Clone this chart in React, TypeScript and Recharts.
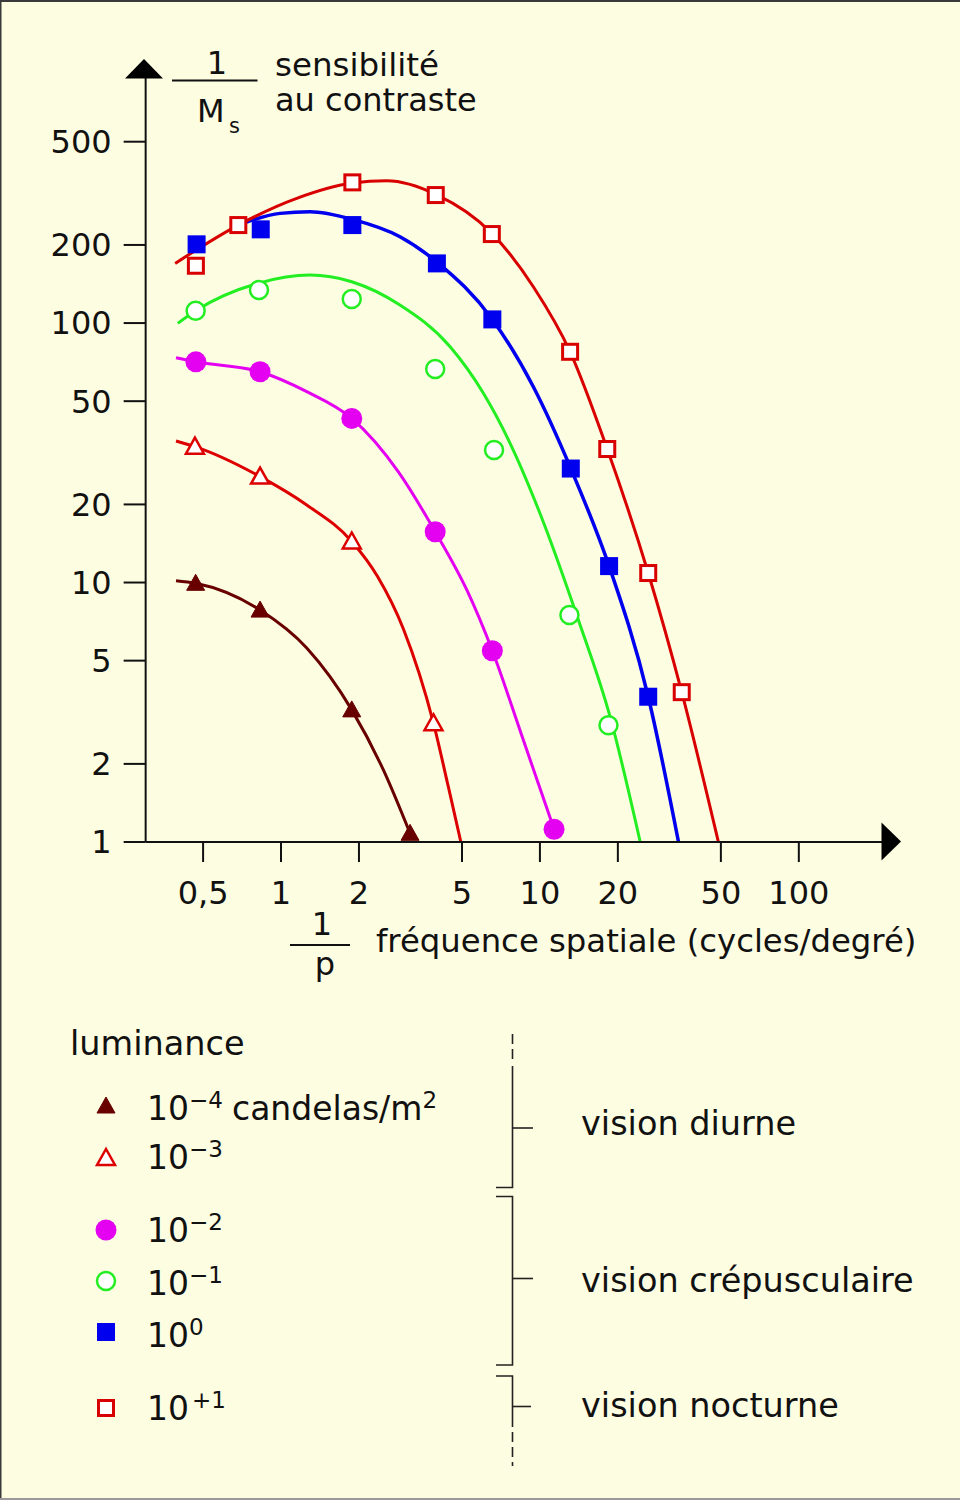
import { ComposedChart, Line, Scatter, XAxis, YAxis } from 'recharts';

// axis ticks
const X_TICKS = [0.5, 1, 2, 5, 10, 20, 50, 100];
const Y_TICKS = [1, 2, 5, 10, 20, 50, 100, 200, 500];

// luminance 10^-4 cd/m2
const lum4Pts = [
  { x: 0.468, y: 9.93 }, { x: 0.83, y: 7.83 }, { x: 1.876, y: 3.23 }, { x: 3.15, y: 1.08 },
];
const lum4Curve = [
  { x: 0.393, y: 10.16 }, { x: 0.468, y: 9.93 }, { x: 0.83, y: 7.83 }, { x: 1.257, y: 5.59 },
  { x: 1.876, y: 3.23 }, { x: 2.485, y: 1.895 }, { x: 3.15, y: 1.08 },
];

// 10^-3
const lum3Pts = [
  { x: 0.465, y: 33.4 }, { x: 0.83, y: 25.6 }, { x: 1.876, y: 14.4 }, { x: 3.88, y: 2.87 },
];
const lum3Curve = [
  { x: 0.393, y: 35.1 }, { x: 0.465, y: 33.4 }, { x: 0.83, y: 25.6 }, { x: 1.257, y: 19.9 },
  { x: 1.876, y: 14.4 }, { x: 2.36, y: 10.55 }, { x: 2.97, y: 6.62 }, { x: 3.88, y: 2.87 },
  { x: 4.43, y: 1.63 }, { x: 4.95, y: 1.0 },
];

// 10^-2
const lum2Pts = [
  { x: 0.469, y: 70.9 }, { x: 0.83, y: 64.9 }, { x: 1.876, y: 42.9 }, { x: 3.94, y: 15.7 },
  { x: 6.55, y: 5.46 }, { x: 11.34, y: 1.12 },
];
const lum2Curve = [
  { x: 0.393, y: 73.5 }, { x: 0.469, y: 70.9 }, { x: 0.83, y: 64.9 }, { x: 1.257, y: 54.4 },
  { x: 1.876, y: 42.9 }, { x: 2.84, y: 26.7 }, { x: 3.94, y: 15.7 }, { x: 5.22, y: 9.36 },
  { x: 6.55, y: 5.46 }, { x: 8.63, y: 2.47 }, { x: 11.34, y: 1.12 },
];

// 10^-1
const lum1Pts = [
  { x: 0.468, y: 111.5 }, { x: 0.822, y: 134.1 }, { x: 1.876, y: 123.7 }, { x: 3.94, y: 66.5 },
  { x: 6.65, y: 32.4 }, { x: 13.0, y: 7.49 }, { x: 18.4, y: 2.82 },
];
const lum1Curve = [
  { x: 0.399, y: 99.7 }, { x: 0.468, y: 111.5 }, { x: 0.822, y: 142.6 }, { x: 1.294, y: 153.1 },
  { x: 1.876, y: 144.3 }, { x: 2.88, y: 117.3 }, { x: 4.5, y: 81.0 }, { x: 6.05, y: 53.6 },
  { x: 7.67, y: 34.4 }, { x: 10.0, y: 18.5 }, { x: 14.08, y: 7.17 }, { x: 18.66, y: 3.04 },
  { x: 24.4, y: 1.0 },
];

// 10^0
const lum0Pts = [
  { x: 0.472, y: 201.1 }, { x: 0.835, y: 229.7 }, { x: 1.886, y: 238.6 }, { x: 4.0, y: 169.8 },
  { x: 6.55, y: 103.3 }, { x: 13.16, y: 27.5 }, { x: 18.5, y: 11.57 }, { x: 26.2, y: 3.63 },
];
const lum0Curve = [
  { x: 0.737, y: 245.1 }, { x: 0.991, y: 264.7 }, { x: 1.294, y: 268.5 }, { x: 1.886, y: 250.9 },
  { x: 2.88, y: 215.1 }, { x: 4.0, y: 171.8 }, { x: 6.55, y: 103.3 }, { x: 9.43, y: 56.8 },
  { x: 13.16, y: 27.5 }, { x: 18.5, y: 11.57 }, { x: 26.2, y: 3.63 }, { x: 34.3, y: 1.0 },
];

// 10^+1
const lumP1Pts = [
  { x: 0.469, y: 166.3 }, { x: 0.684, y: 238.6 }, { x: 1.886, y: 348.5 }, { x: 3.96, y: 311.4 },
  { x: 6.52, y: 220.3 }, { x: 13.08, y: 77.5 }, { x: 18.2, y: 32.7 }, { x: 26.2, y: 10.88 },
  { x: 35.3, y: 3.78 },
];
const lumP1Curve = [
  { x: 0.39, y: 169.8 }, { x: 0.684, y: 238.6 }, { x: 1.15, y: 302.4 }, { x: 1.886, y: 346.3 },
  { x: 2.56, y: 353.5 }, { x: 3.96, y: 313.3 }, { x: 6.52, y: 221.7 }, { x: 9.43, y: 138.0 },
  { x: 13.08, y: 77.5 }, { x: 18.2, y: 32.7 }, { x: 26.2, y: 10.88 }, { x: 35.3, y: 3.78 },
  { x: 48.9, y: 1.0 },
];

// legend rows: exponent label
const LEGEND_EXP = ['\u22124', '\u22123', '\u22122', '\u22121', '0', '+1'];

const BROWN = '#680000';
const RED = '#dd0000';
const MAGENTA = '#e400f0';
const GREEN = '#22ee22';
const BLUE = '#0000ee';
const RED_SQ = '#d80000';
const BG = '#fdfde2';
const FONT = '"DejaVu Sans", sans-serif';

const Triangle = ({ cx, cy, fill, stroke, hollow }: any) => (
  <polygon
    points={`${cx - 9},${cy + 7} ${cx + 9},${cy + 7} ${cx},${cy - 9}`}
    fill={hollow ? '#ffffff' : fill}
    stroke={stroke}
    strokeWidth={hollow ? 2.5 : 1}
    strokeLinejoin="miter"
  />
);
const Circle = ({ cx, cy, fill, stroke, hollow }: any) =>
  hollow ? (
    <circle cx={cx} cy={cy} r={9} fill="#ffffff" stroke={stroke} strokeWidth={2.5} />
  ) : (
    <circle cx={cx} cy={cy} r={10.5} fill={fill} />
  );
const Square = ({ cx, cy, fill, stroke, hollow }: any) =>
  hollow ? (
    <rect x={cx - 7.5} y={cy - 7.5} width={15} height={15} fill="#ffffff" stroke={stroke} strokeWidth={3} />
  ) : (
    <rect x={cx - 9} y={cy - 9} width={18} height={18} fill={fill} />
  );

const fmtX = (v: number) => String(v).replace('.', ',');

const legendRows = [
  { base: 1119.5, shape: <Triangle cx={106} cy={1106} fill={BROWN} stroke={BROWN} /> },
  { base: 1168.5, shape: <Triangle cx={106} cy={1158} stroke={RED} hollow /> },
  { base: 1241.7, shape: <Circle cx={106} cy={1230} fill={MAGENTA} /> },
  { base: 1295, shape: <Circle cx={106} cy={1281} stroke={GREEN} hollow /> },
  { base: 1346.7, shape: <Square cx={106} cy={1332} fill={BLUE} /> },
  { base: 1420, shape: <Square cx={106} cy={1408} stroke={RED_SQ} hollow /> },
];

export default function App() {
  return (
    <div style={{ position: 'absolute', left: 0, top: 0, width: 960, height: 1500, background: BG, fontFamily: FONT }}>
      <div style={{ position: 'absolute', left: 0, top: 0 }}>
        <ComposedChart width={960} height={1500} margin={{ top: 78, right: 70, bottom: 598, left: 85.65 }}>
          <XAxis
            dataKey="x"
            type="number"
            scale="log"
            domain={[0.3, 225]}
            allowDataOverflow
            ticks={X_TICKS}
            tickFormatter={fmtX}
            height={60}
            stroke="#111"
            strokeWidth={2}
            tickSize={20}
            tickMargin={19}
            tick={{ fill: '#111', fontSize: 32, fontFamily: FONT }}
            interval={0}
          />
          <YAxis
            dataKey="y"
            type="number"
            scale="log"
            domain={[1, 880]}
            allowDataOverflow
            ticks={Y_TICKS}
            width={60}
            stroke="#111"
            strokeWidth={2}
            tickSize={22}
            tickMargin={12}
            tick={{ fill: '#111', fontSize: 32, fontFamily: FONT }}
            interval={0}
          />
          <Line data={lum4Curve} dataKey="y" type="monotone" stroke={BROWN} strokeWidth={3} dot={false} isAnimationActive={false} />
          <Line data={lum3Curve} dataKey="y" type="monotone" stroke={RED} strokeWidth={3} dot={false} isAnimationActive={false} />
          <Line data={lum2Curve} dataKey="y" type="monotone" stroke={MAGENTA} strokeWidth={3} dot={false} isAnimationActive={false} />
          <Line data={lum1Curve} dataKey="y" type="monotone" stroke={GREEN} strokeWidth={3} dot={false} isAnimationActive={false} />
          <Line data={lum0Curve} dataKey="y" type="monotone" stroke={BLUE} strokeWidth={3.5} dot={false} isAnimationActive={false} />
          <Line data={lumP1Curve} dataKey="y" type="monotone" stroke={RED_SQ} strokeWidth={3} dot={false} isAnimationActive={false} />
          <Scatter data={lum4Pts} dataKey="y" isAnimationActive={false} shape={(p: any) => <Triangle cx={p.cx} cy={p.cy} fill={BROWN} stroke={BROWN} />} />
          <Scatter data={lum3Pts} dataKey="y" isAnimationActive={false} shape={(p: any) => <Triangle cx={p.cx} cy={p.cy} stroke={RED} hollow />} />
          <Scatter data={lum2Pts} dataKey="y" isAnimationActive={false} shape={(p: any) => <Circle cx={p.cx} cy={p.cy} fill={MAGENTA} />} />
          <Scatter data={lum1Pts} dataKey="y" isAnimationActive={false} shape={(p: any) => <Circle cx={p.cx} cy={p.cy} stroke={GREEN} hollow />} />
          <Scatter data={lum0Pts} dataKey="y" isAnimationActive={false} shape={(p: any) => <Square cx={p.cx} cy={p.cy} fill={BLUE} />} />
          <Scatter data={lumP1Pts} dataKey="y" isAnimationActive={false} shape={(p: any) => <Square cx={p.cx} cy={p.cy} stroke={RED_SQ} hollow />} />
        </ComposedChart>
      </div>
      <svg width={960} height={1500} style={{ position: 'absolute', left: 0, top: 0, pointerEvents: 'none' }} fontFamily={FONT}>
        {/* frame */}
        <line x1={0} y1={1} x2={960} y2={1} stroke="#3a3a3a" strokeWidth={2} />
        <line x1={0.75} y1={0} x2={0.75} y2={1500} stroke="#3a3a3a" strokeWidth={1.5} />
        <line x1={0} y1={1499} x2={960} y2={1499} stroke="#9a9a9a" strokeWidth={2} />
        {/* arrow heads */}
        <polygon points="125,78.5 163,78.5 144,59" fill="#000" />
        <polygon points="881.5,822.5 881.5,860.5 901,841.5" fill="#000" />
        {/* y axis title */}
        <text x={217} y={74} fontSize={32} textAnchor="middle" fill="#111">1</text>
        <line x1={172} y1={80.5} x2={257.5} y2={80.5} stroke="#111" strokeWidth={2} />
        <text x={197} y={121.5} fontSize={32} fill="#111">M</text>
        <text x={229} y={133} fontSize={21} fill="#111">s</text>
        <text x={275} y={76} fontSize={32.5} fill="#111">sensibilité</text>
        <text x={275} y={111} fontSize={32} fill="#111">au contraste</text>
        {/* x axis title */}
        <text x={322} y={935} fontSize={32} textAnchor="middle" fill="#111">1</text>
        <line x1={290} y1={945} x2={350} y2={945} stroke="#111" strokeWidth={2} />
        <text x={325} y={975} fontSize={32} textAnchor="middle" fill="#111">p</text>
        <text x={376} y={952} fontSize={32.3} fill="#111">fréquence spatiale (cycles/degré)</text>
        {/* legend */}
        <text x={70} y={1055} fontSize={33.5} fill="#111">luminance</text>
        {legendRows.map((r, i) => (
          <g key={i}>
            {r.shape}
            <text x={147} y={r.base} fontSize={33} fill="#111">
              10
              <tspan fontSize={23} dy={-12} dx={LEGEND_EXP[i] === '+1' ? 3 : 0}>{LEGEND_EXP[i]}</tspan>
            </text>
          </g>
        ))}
        <text x={232} y={1119.5} fontSize={33} fill="#111">
          candelas/m
          <tspan fontSize={23} dy={-12}>2</tspan>
        </text>
        {/* brackets */}
        <g stroke="#222" strokeWidth={1.6} fill="none">
          <line x1={512.5} y1={1034} x2={512.5} y2={1063} strokeDasharray="10 5" />
          <polyline points="512.5,1066 512.5,1187.5 496,1187.5" />
          <line x1={512.5} y1={1128} x2={533} y2={1128} />
          <polyline points="496,1196.5 512.5,1196.5 512.5,1365 496,1365" />
          <line x1={512.5} y1={1278.5} x2={533} y2={1278.5} />
          <polyline points="496,1376 512.5,1376 512.5,1427" />
          <line x1={512.5} y1={1432} x2={512.5} y2={1466} strokeDasharray="10 5" />
          <line x1={512.5} y1={1406.5} x2={531} y2={1406.5} />
        </g>
        <text x={581} y={1135} fontSize={33.5} fill="#111">vision diurne</text>
        <text x={581} y={1291.5} fontSize={33.5} fill="#111">vision crépusculaire</text>
        <text x={581} y={1417} fontSize={33.5} fill="#111">vision nocturne</text>
      </svg>
    </div>
  );
}
